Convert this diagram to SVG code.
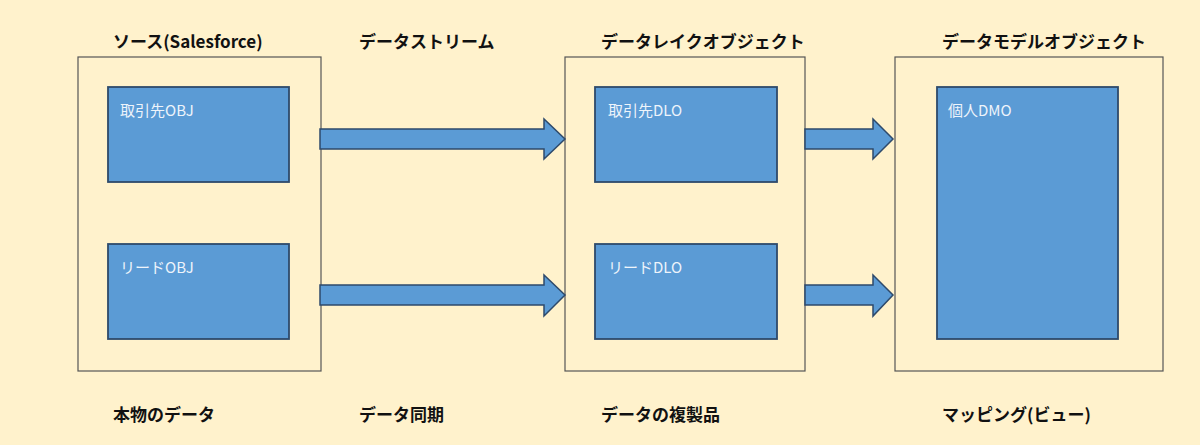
<svg xmlns="http://www.w3.org/2000/svg" width="1200" height="445" viewBox="0 0 1200 445">
<style>
.bg{fill:#fff2cc}
.outer{fill:#fff2cc;stroke:#555;stroke-width:1.2}
.inner{fill:#5b9bd5;stroke:#2e4a6b;stroke-width:1.8}
.arr{fill:#5b9bd5;stroke:#2e4a6b;stroke-width:1.5}
.t{font-family:"Noto Sans CJK JP","Liberation Sans",sans-serif;font-size:17px;font-weight:bold;fill:#111}
.l{font-family:"Noto Sans CJK JP","Liberation Sans",sans-serif;font-size:15px;fill:#eef4fb}
</style>
<rect class="bg" width="1200" height="445"/>
<g id="source"><rect class="outer" x="78" y="57" width="243" height="314"/></g>
<g id="obj1"><rect class="inner" x="108" y="87" width="181" height="95"/><text class="l" x="120" y="116">取引先OBJ</text></g>
<g id="obj2"><rect class="inner" x="108" y="244" width="181" height="95"/><text class="l" x="120" y="273">リードOBJ</text></g>
<g id="dl"><rect class="outer" x="565" y="57" width="240" height="314"/></g>
<g id="dlo1"><rect class="inner" x="595" y="87" width="182" height="95"/><text class="l" x="608" y="116">取引先DLO</text></g>
<g id="dlo2"><rect class="inner" x="595" y="244" width="182" height="95"/><text class="l" x="608" y="273">リードDLO</text></g>
<g id="dm"><rect class="outer" x="895" y="57" width="268" height="314"/></g>
<g id="dmo"><rect class="inner" x="937" y="87" width="181" height="252"/><text class="l" x="948" y="116">個人DMO</text></g>
<g id="connectors">
<polygon class="arr" points="320,129 544,129 544,119 565,139 544,159 544,149 320,149"/>
<polygon class="arr" points="320,285 544,285 544,275 565,295 544,316 544,305 320,305"/>
<polygon class="arr" points="805,129 873,129 873,119 893,139 873,159 873,149 805,149"/>
<polygon class="arr" points="805,285 873,285 873,275 893,295 873,316 873,305 805,305"/>
</g>
<g id="labels">
<text class="t" x="113" y="48">ソース(Salesforce)</text>
<text class="t" x="359" y="48">データストリーム</text>
<text class="t" x="601" y="48">データレイクオブジェクト</text>
<text class="t" x="942" y="48">データモデルオブジェクト</text>
<text class="t" x="113" y="421">本物のデータ</text>
<text class="t" x="359" y="421">データ同期</text>
<text class="t" x="601" y="421">データの複製品</text>
<text class="t" x="942" y="421">マッピング(ビュー)</text>
</g>
</svg>
